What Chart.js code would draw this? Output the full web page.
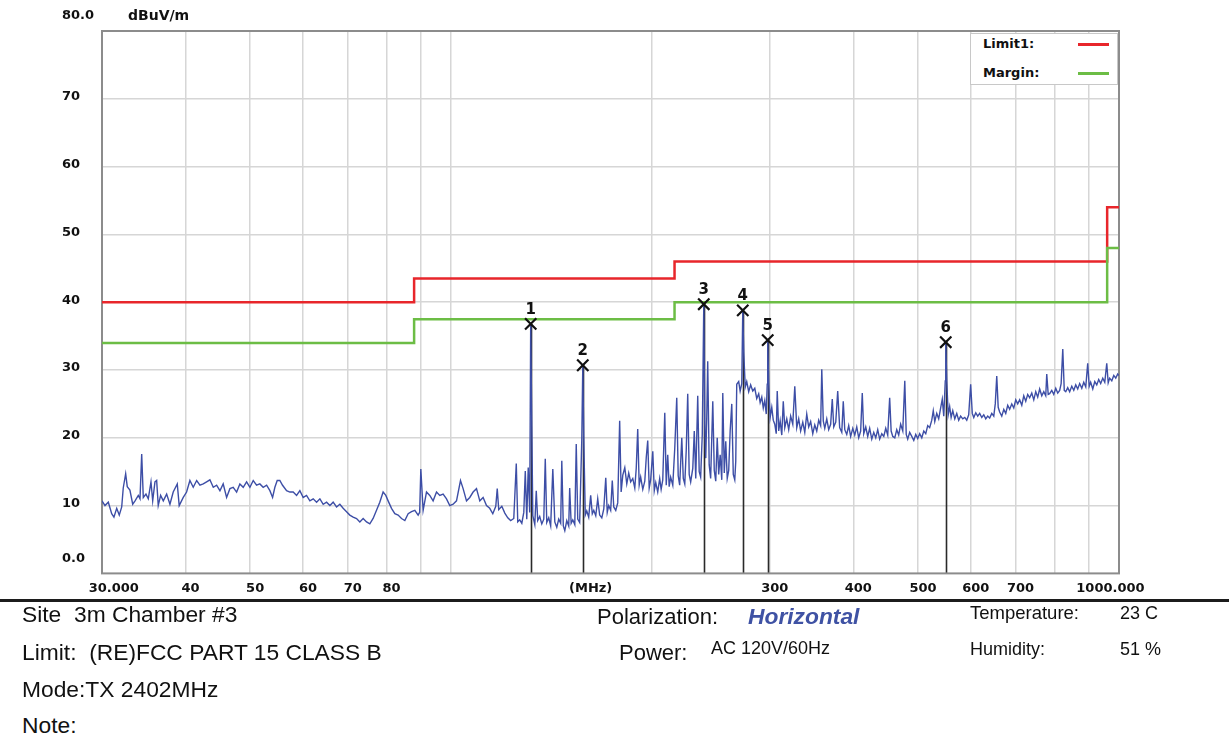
<!DOCTYPE html>
<html>
<head>
<meta charset="utf-8">
<script src="https://cdn.jsdelivr.net/npm/chart.js@4.4.0/dist/chart.umd.min.js"></script>
<style>
  html, body { margin:0; padding:0; background:#fff; }
  body { width:1229px; height:738px; position:relative; overflow:hidden; font-family:"Liberation Sans", Arial, sans-serif; color:#111; }
  #c { position:absolute; left:0; top:0; }
  .t { position:absolute; white-space:pre; }
  .big { font-size:22.8px; line-height:23px; }
  .mid { font-size:22px; line-height:22px; }
  .small { font-size:18px; line-height:18px; }
  #legend { position:absolute; left:970px; top:33px; width:148px; height:52px; background:#fff; border:1px solid #c8c8c8; box-sizing:border-box; font-family:"DejaVu Sans", sans-serif; font-weight:bold; font-size:13px; }
  #legend .lbl { position:absolute; left:12px; line-height:14px; }
  #legend .ln { position:absolute; left:107px; width:31px; height:3px; }
  #rule { position:absolute; left:0; top:599px; width:1229px; height:3px; background:#1c1c1c; }
</style>
</head>
<body>
<canvas id="c" width="1229" height="607"></canvas>
<div id="legend">
  <div class="lbl" style="top:3px;">Limit1:</div>
  <div class="ln" style="top:9px;background:#e8262b;"></div>
  <div class="lbl" style="top:32px;">Margin:</div>
  <div class="ln" style="top:38px;background:#6cbd45;"></div>
</div>
<div id="rule"></div>
<div class="t big" style="left:22px;top:603px;">Site  3m Chamber #3</div>
<div class="t big" style="left:22px;top:641px;">Limit:  (RE)FCC PART 15 CLASS B</div>
<div class="t big" style="left:22px;top:678px;">Mode:TX 2402MHz</div>
<div class="t big" style="left:22px;top:714px;">Note:</div>
<div class="t mid" style="left:597px;top:606px;">Polarization:</div>
<div class="t big" style="left:748px;top:605px;font-weight:bold;font-style:italic;color:#3f52a4;">Horizontal</div>
<div class="t mid" style="left:619px;top:642px;">Power:</div>
<div class="t small" style="left:711px;top:639px;">AC 120V/60Hz</div>
<div class="t small" style="left:970px;top:604px;font-size:18.5px;">Temperature:</div>
<div class="t small" style="left:1120px;top:604px;">23 C</div>
<div class="t small" style="left:970px;top:640px;">Humidity:</div>
<div class="t small" style="left:1120px;top:640px;">51 %</div>
<script>
// ---------- data ----------
const measFreq = [
30.00,30.31,30.66,31.02,31.26,31.56,31.84,32.11,32.28,32.55,32.73,33.03,33.35,33.62,34.00,34.20,34.40,34.59,34.91,35.19,
35.52,35.73,36.01,36.22,36.42,36.72,37.06,37.49,37.92,38.35,38.89,39.15,39.70,40.16,40.62,41.09,41.58,42.05,42.53,43.03,
43.52,44.03,44.54,45.05,45.56,46.10,46.63,47.16,47.72,48.26,48.82,49.39,49.96,50.53,51.12,51.70,52.30,52.92,53.52,54.02,
54.45,54.89,55.39,55.91,56.69,57.34,58.00,58.68,59.35,60.03,60.73,61.43,62.14,62.87,63.59,64.32,65.07,65.82,66.57,67.35,
68.12,68.90,69.71,70.50,71.32,72.16,72.98,73.82,74.69,75.54,76.40,77.30,78.18,79.08,79.82,80.46,81.40,82.34,83.28,84.26,
85.23,86.21,87.22,88.22,89.23,89.70,90.06,90.78,91.84,92.89,93.96,95.07,96.15,97.26,98.40,99.52,100.67,101.85,103.26,104.20,
105.42,106.62,107.85,109.12,110.37,111.64,112.95,114.21,
115.43,116.62,117.21,117.81,119.07,120.31,121.54,122.77,124.09,125.16,125.80,126.64,127.57,128.45,129.11,129.77,130.43,131.09,131.54,132.04,
132.50,133.41,134.09,134.77,135.69,136.67,137.61,138.32,139.03,139.98,140.92,141.96,142.94,143.92,144.89,145.87,146.43,147.19,147.95,148.96,
149.97,150.47,151.23,152.08,153.14,153.91,154.70,155.74,156.88,157.42,157.96,158.78,159.59,160.67,161.76,162.66,163.50,164.62,165.74,166.86,
168.08,169.24,170.40,171.27,172.14,173.31,174.27,175.17,176.37,177.58,178.77,179.68,180.70,181.95,183.20,184.44,185.68,187.03,188.33,189.28,
190.25,191.22,192.19,193.60,194.94,195.93,196.93,197.93,198.93,200.39,201.42,202.46,203.84,205.22,206.25,207.41,208.85,209.91,210.98,212.05,
213.13,214.69,216.17,217.65,218.75,219.86,221.46,222.61,223.76,224.90,226.05,227.20,228.35,230.02,231.21,232.39,233.98,235.17,236.36,237.68,
238.91,239.73,240.55,241.37,242.18,243.41,244.65,246.44,247.71,248.98,250.25,251.53,252.80,254.21,255.09,256.40,257.72,259.04,260.36,261.66,
263.12,264.49,265.85,266.75,267.67,269.49,270.83,272.35,273.29,274.23,275.64,277.06,278.94,280.82,282.88,284.84,286.78,288.73,290.17,291.80,
293.31,294.82,296.33,297.34,297.84,298.86,300.35,302.03,303.59,305.16,306.72,307.77,309.34,310.89,312.63,314.25,315.88,318.04,320.20,322.35,
324.72,326.97,329.20,331.43,333.66,336.11,338.43,340.74,343.06,345.37,347.90,350.31,352.70,355.09,357.48,358.86,360.72,362.59,365.07,367.54,
370.02,372.09,374.01,376.58,379.14,381.70,384.48,386.47,388.47,391.13,393.78,396.43,399.34,402.11,404.85,407.60,410.35,412.64,414.77,417.61,
420.46,423.30,426.38,429.32,432.27,435.21,438.15,441.34,444.39,447.43,450.48,453.52,455.82,458.40,461.57,464.72,467.88,471.03,474.48,477.77,
480.18,482.64,485.90,489.44,492.82,496.19,499.57,502.95,506.61,510.11,513.60,517.10,520.59,524.38,527.09,529.83,533.45,537.07,540.69,543.71,
546.52,549.33,550.26,552.16,554.95,557.75,560.57,563.75,567.65,571.53,575.41,579.28,583.53,587.57,591.58,595.59,599.61,602.96,606.07,610.23,
614.38,618.53,623.04,627.34,631.64,635.93,640.24,644.90,649.35,652.71,656.05,659.35,662.70,667.52,672.13,676.73,681.34,685.94,690.94,695.71,
700.48,705.24,710.01,715.18,720.12,725.05,729.98,734.92,740.27,745.38,750.49,755.59,760.70,766.24,771.53,776.81,779.50,783.40,787.39,793.12,
798.59,804.07,809.54,815.01,819.13,823.77,828.03,832.27,837.93,843.60,849.74,855.60,861.47,867.33,873.19,879.55,885.62,891.69,897.76,902.33,
906.90,913.55,919.88,926.16,932.44,938.72,945.60,952.15,958.65,963.46,968.36,975.41,982.14,988.87,995.60,1000
];
const measLevel = [
10.7,10.0,10.5,8.8,8.3,9.6,8.6,9.8,12.6,14.7,12.8,12.3,10.2,10.7,11.5,11.0,17.6,11.2,11.7,11.0,
13.5,10.7,13.5,13.7,10.0,11.5,10.7,11.7,10.2,12.0,13.2,10.0,11.2,12.0,13.7,12.7,13.7,13.0,13.2,13.5,
13.8,12.7,13.0,12.2,13.2,11.2,12.5,12.7,12.0,13.2,12.7,13.5,12.7,13.7,13.0,13.2,12.7,13.0,12.2,11.2,
12.7,13.7,13.7,13.0,12.2,12.0,12.0,11.5,12.2,11.2,11.5,10.7,11.0,10.5,11.0,10.2,10.5,10.0,10.5,9.8,
10.2,9.6,9.1,8.6,8.3,8.1,7.6,8.1,7.6,7.3,8.1,9.3,10.5,12.0,11.5,10.7,9.6,8.8,8.6,8.1,
7.8,8.8,9.1,9.3,8.6,9.0,15.4,9.3,12.0,11.5,10.7,12.0,11.5,11.7,11.0,10.0,10.2,10.7,13.7,12.5,
10.7,11.2,12.0,12.5,10.7,11.2,10.0,9.6,
8.8,9.9,12.5,9.4,9.9,8.9,8.2,7.8,8.1,16.2,7.6,7.9,7.4,9.0,15.1,8.0,15.6,9.0,36.8,21.8,
8.5,7.2,12.2,7.8,8.4,7.3,8.0,16.9,7.5,8.2,7.0,15.4,7.6,6.8,8.0,7.4,16.6,7.0,6.3,7.8,
7.0,12.6,7.4,7.9,7.2,19.1,8.0,7.5,19.8,30.7,19.8,8.6,9.2,8.3,11.5,8.8,9.3,8.5,11.0,8.6,
8.2,9.5,14.1,9.0,10.0,9.3,13.7,9.8,9.3,10.4,22.5,12.0,14.5,15.6,13.2,14.8,13.5,14.0,12.6,15.5,
21.3,13.0,14.2,12.4,13.6,17.1,19.6,12.6,13.8,18.0,12.2,13.4,12.0,14.0,12.4,13.8,23.7,13.0,17.5,12.8,
14.2,13.0,18.5,25.9,14.4,13.0,20.0,14.0,13.2,18.2,26.5,14.6,13.5,15.5,21.0,14.0,26.2,15.0,14.2,20.5,
39.7,22.0,17.0,23.0,31.3,16.0,14.0,25.4,15.2,13.6,20.0,14.6,17.5,13.8,26.6,14.8,19.5,14.0,15.2,21.0,
25.0,14.6,13.8,16.5,27.9,28.3,26.9,28.0,38.8,32.5,27.5,28.3,26.8,27.8,26.9,27.3,25.8,26.5,25.2,26.0,
24.4,25.5,23.5,27.9,34.4,27.9,23.0,24.5,22.6,22.0,20.6,26.9,21.0,22.5,20.4,25.4,21.5,22.8,21.2,23.2,
22.0,27.6,21.5,22.8,21.0,22.3,20.8,23.5,21.6,22.4,20.6,21.9,21.0,22.6,21.8,30.1,22.5,21.4,22.8,21.2,
22.0,25.7,21.6,22.3,26.9,21.5,20.8,25.4,21.2,20.5,21.8,20.2,21.4,20.4,21.6,20.0,21.0,26.6,20.6,21.6,
20.2,21.4,19.8,20.8,20.0,21.2,19.8,20.6,20.2,21.4,20.4,25.9,21.0,20.2,20.0,21.2,20.4,22.0,21.0,28.4,
20.5,19.8,20.8,20.2,19.6,20.5,19.9,20.6,20.0,21.0,20.6,21.8,21.5,22.6,24.0,22.4,23.6,22.8,24.4,25.7,
23.2,28.4,34.1,28.4,23.4,24.6,23.0,24.0,22.8,23.6,22.6,23.2,22.8,23.0,22.6,23.4,27.9,23.6,23.0,23.7,
23.2,23.6,23.0,23.4,22.8,23.2,22.9,23.6,23.2,25.0,29.1,24.5,23.8,23.2,24.2,23.6,24.8,24.2,25.0,24.4,
25.6,25.0,25.6,24.8,26.2,25.4,26.4,25.9,26.6,25.6,26.8,26.0,27.2,26.2,26.8,26.2,29.4,26.4,26.5,27.0,
26.4,27.3,26.6,27.0,28.0,33.1,27.0,26.8,27.4,26.8,27.6,27.0,27.8,27.2,28.0,27.3,28.2,27.5,31.0,27.6,
28.2,27.2,28.3,27.8,28.6,28.0,28.8,28.2,31.0,28.1,28.8,28.4,29.2,28.8,29.4,29.2
];
const limitFreq   = [30, 88, 88, 216, 216, 960, 960, 1000];
const limitLevel  = [40, 40, 43.5, 43.5, 46, 46, 54, 54];
const marginLevel = [34, 34, 37.5, 37.5, 40, 40, 48, 48];
const markerFreq   = [131.54, 157.42, 238.91, 273.29, 297.84, 550.26];
const markerLevel  = [36.8, 30.7, 39.7, 38.8, 34.4, 34.1];
const markerLabels = ['1', '2', '3', '4', '5', '6'];
const xTickValues = [30, 40, 50, 60, 70, 80, 90, 100, 159, 200, 300, 400, 500, 600, 700, 800, 900, 1000];
const xTickLabels = ['   30.000', '40', '50', '60', '70', '80', '', '', '(MHz)', '', '300', '400', '500', '600', '700', '', '', '1000.000      '];
const yTickValues = [0, 10, 20, 30, 40, 50, 60, 70, 80];
const yTickLabels = ['0.0', '10', '20', '30', '40', '50', '60', '70', '80.0'];
const yUnit = 'dBuV/m';

// ---------- helpers ----------
const pts = (xs, ys) => xs.map((v, i) => ({ x: v, y: ys[i] }));
const noGridX = [30, 159, 1000];
const tickFont = 'bold 13px "DejaVu Sans"';

const framePlugin = {
  id: 'frame',
  beforeDatasetsDraw(chart) {
    const { ctx, chartArea: a, scales } = chart;
    ctx.save();
    ctx.strokeStyle = '#2a2a2a';
    ctx.lineWidth = 1.6;
    markerFreq.forEach((f, i) => {
      const x = Math.round(scales.x.getPixelForValue(f)) + 0.5;
      ctx.beginPath();
      ctx.moveTo(x, scales.y.getPixelForValue(0));
      ctx.lineTo(x, scales.y.getPixelForValue(markerLevel[i]));
      ctx.stroke();
    });
    ctx.strokeStyle = '#8c8c8c';
    ctx.lineWidth = 2;
    ctx.strokeRect(a.left, a.top, a.right - a.left, a.bottom - a.top);
    ctx.restore();
  },
  afterDatasetsDraw(chart) {
    const { ctx, scales } = chart;
    ctx.save();
    ctx.fillStyle = '#111';
    ctx.font = 'bold 15px "DejaVu Sans"';
    ctx.textAlign = 'center';
    ctx.textBaseline = 'middle';
    markerFreq.forEach((f, i) => {
      ctx.fillText(markerLabels[i], scales.x.getPixelForValue(f), scales.y.getPixelForValue(markerLevel[i]) - 14);
    });
    ctx.font = tickFont;
    ctx.textAlign = 'left';
    yTickValues.forEach((v, i) => {
      let y = scales.y.getPixelForValue(v) - 2;
      if (v === 0) y -= 13;
      if (v === 80) y -= 13;
      ctx.fillText(yTickLabels[i], 62, y);
    });
    ctx.font = 'bold 14px "DejaVu Sans"';
    ctx.fillText(yUnit, 128, scales.y.getPixelForValue(80) - 15);
    ctx.restore();
  }
};

new Chart(document.getElementById('c'), {
  type: 'line',
  data: {
    datasets: [
      { label: 'Limit1', data: pts(limitFreq, limitLevel), borderColor: '#e8262b', borderWidth: 2.5, pointRadius: 0, order: 3 },
      { label: 'Margin', data: pts(limitFreq, marginLevel), borderColor: '#6cbd45', borderWidth: 2.5, pointRadius: 0, order: 2 },
      { label: 'Trace', data: pts(measFreq, measLevel), borderColor: '#3d4ea6', borderWidth: 1.4, pointRadius: 0, order: 1 },
      { label: 'Markers', data: pts(markerFreq, markerLevel), showLine: false, pointStyle: 'crossRot', pointRadius: 8,
        pointBorderWidth: 2.2, borderColor: '#111', pointBorderColor: '#111', backgroundColor: '#111', order: 0 }
    ]
  },
  options: {
    responsive: false,
    animation: false,
    devicePixelRatio: 1,
    layout: { padding: { left: 102, top: 31, right: 110, bottom: 4 } },
    plugins: { legend: { display: false }, tooltip: { enabled: false } },
    scales: {
      x: {
        type: 'logarithmic', min: 30, max: 1000,
        afterBuildTicks: s => { s.ticks = xTickValues.map(v => ({ value: v })); },
        ticks: {
          autoSkip: false, maxRotation: 0, minRotation: 0, padding: 7, labelOffset: 5,
          color: '#111', font: { family: 'DejaVu Sans', weight: 'bold', size: 13 },
          callback: (v, i) => xTickLabels[i]
        },
        grid: {
          color: c => (c.tick && noGridX.includes(c.tick.value)) ? 'rgba(0,0,0,0)' : '#d6d6d6',
          lineWidth: 1.5, drawTicks: false
        },
        border: { display: false }
      },
      y: {
        min: 0, max: 80,
        ticks: { display: false, stepSize: 10 },
        grid: {
          color: c => (c.tick && (c.tick.value === 0 || c.tick.value === 80)) ? 'rgba(0,0,0,0)' : '#d6d6d6',
          lineWidth: 1.5, drawTicks: false
        },
        border: { display: false }
      }
    }
  },
  plugins: [framePlugin]
});
</script>
</body>
</html>
